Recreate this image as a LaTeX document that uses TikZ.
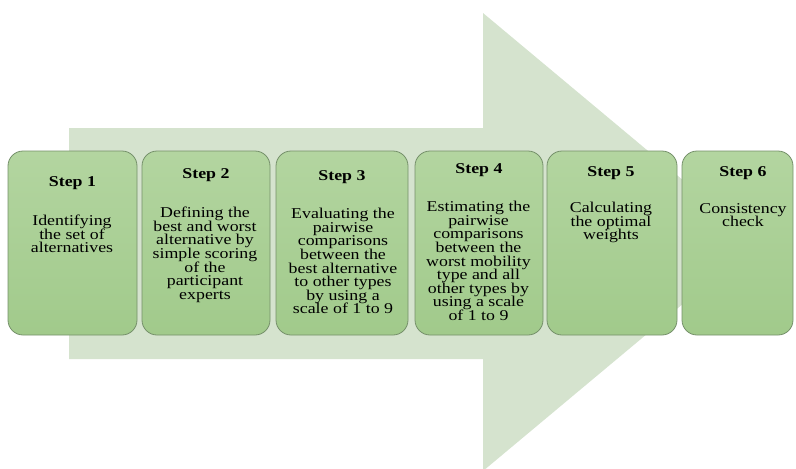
\documentclass[tikz,border=0pt]{standalone}
\usepackage{fontspec}
\setmainfont[FakeStretch=1.19]{Liberation Serif}
\setlength{\lineskiplimit}{-10pt}

\definecolor{arrowgreen}{HTML}{D5E3CE}
\definecolor{boxtop}{HTML}{B3D5A0}
\definecolor{boxbottom}{HTML}{A1CA8B}
\definecolor{boxline}{HTML}{75906A}

\tikzset{
  stepbox/.style={draw=boxline, line width=0.8pt, rounded corners=15pt,
    top color=boxtop, bottom color=boxbottom, inner sep=0pt,
    minimum height=184pt},
  steptitle/.style={font=\fontsize{15}{15}\selectfont\bfseries,
    anchor=base, inner sep=0pt},
  steptext/.style={font=\fontsize{15}{13.6}\selectfont,
    align=center, anchor=north, inner sep=0pt},
}

\begin{document}
\begin{tikzpicture}[x=1pt, y=-1pt]
  \useasboundingbox (0,0) rectangle (796,469);

  % big arrow behind the steps
  \fill[arrowgreen] (69,128) -- (483,128) -- (483,13) -- (757,242)
    -- (483,471) -- (483,359) -- (69,359) -- cycle;

  % step boxes
  \node[stepbox, minimum width=129pt] (box1) at (72.5,243) {};
  \node[stepbox, minimum width=128pt] (box2) at (206,243) {};
  \node[stepbox, minimum width=132pt] (box3) at (342,243) {};
  \node[stepbox, minimum width=128pt] (box4) at (479,243) {};
  \node[stepbox, minimum width=130pt] (box5) at (612,243) {};
  \node[stepbox, minimum width=111pt] (box6) at (737.5,243) {};

  % titles
  \node[steptitle] (title1) at (72.5,186) {Step 1};
  \node[steptitle] (title2) at (206,178) {Step 2};
  \node[steptitle] (title3) at (342,180) {Step 3};
  \node[steptitle] (title4) at (479,173) {Step 4};
  \node[steptitle] (title5) at (611,176) {Step 5};
  \node[steptitle] (title6) at (743,176) {Step 6};

  % descriptions (top of first line)
  \node[steptext] (text1) at (72,215) {Identifying\\the set of\\alternatives};
  \node[steptext] (text2) at (205,207) {Defining the\\best and worst\\alternative by\\simple scoring\\of the\\participant\\experts};
  \node[steptext] (text3) at (343,208) {Evaluating the\\pairwise\\comparisons\\between the\\best alternative\\to other types\\by using a\\scale of 1 to 9};
  \node[steptext] (text4) at (478.5,201) {Estimating the\\pairwise\\comparisons\\between the\\worst mobility\\type and all\\other types by\\using a scale\\of 1 to 9};
  \node[steptext] (text5) at (611,202) {Calculating\\the optimal\\weights};
  \node[steptext] (text6) at (743,203) {Consistency\\check};
\end{tikzpicture}
\end{document}
